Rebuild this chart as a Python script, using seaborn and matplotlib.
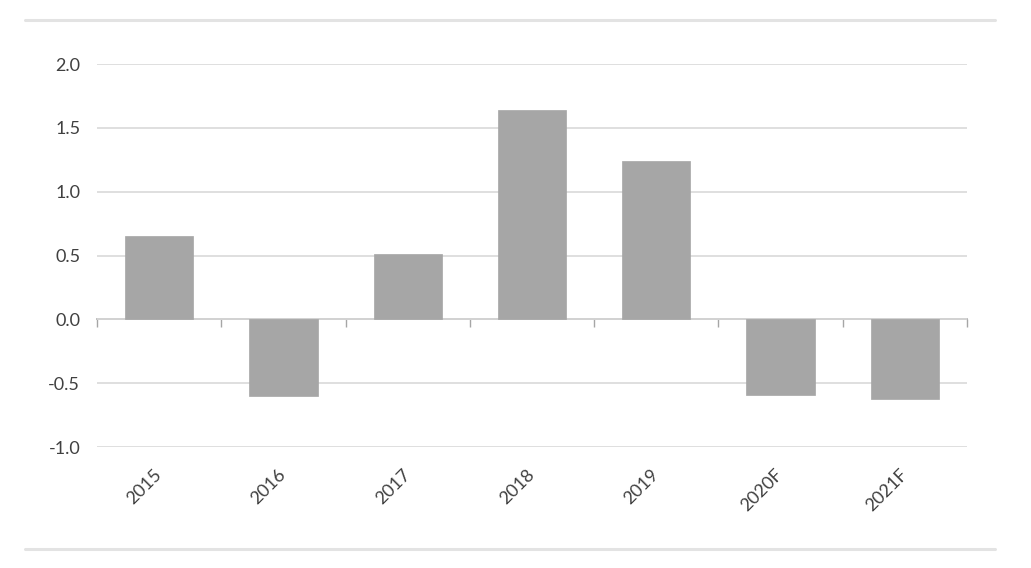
import matplotlib
matplotlib.use("Agg")
import matplotlib.pyplot as plt
from matplotlib.lines import Line2D
import seaborn as sns
import pandas as pd

categories = ["2015", "2016", "2017", "2018", "2019", "2020F", "2021F"]
values = [0.65, -0.60, 0.51, 1.64, 1.24, -0.59, -0.62]
y_ticks = [-1.0, -0.5, 0.0, 0.5, 1.0, 1.5, 2.0]

sns.set_theme(style="white")
plt.rcParams["font.family"] = ["Lato", "DejaVu Sans"]

df = pd.DataFrame({"year": categories, "value": values})

fig = plt.figure(figsize=(10.31, 5.68), dpi=100)
ax = fig.add_axes([0.094, 0.213, 0.844, 0.674])

sns.barplot(data=df, x="year", y="value", color="#a6a6a6", width=0.55,
            saturation=1, ax=ax, edgecolor="#a6a6a6", linewidth=0.5)

ax.set_ylim(-1.0, 2.0)
ax.set_xlim(-0.5, len(categories) - 0.5)
ax.set_yticks(y_ticks)
ax.set_yticklabels([f"{t:.1f}" for t in y_ticks])
ax.yaxis.grid(True, color="#d9d9d9", linewidth=1.2)
ax.set_axisbelow(True)
for s in ax.spines.values():
    s.set_visible(False)
ax.set_xlabel("")
ax.set_ylabel("")
ax.tick_params(axis="y", length=0, pad=12, labelsize=13, labelcolor="#404040")
ax.tick_params(axis="x", length=0, pad=18, labelsize=13, labelcolor="#404040")
for lab in ax.get_xticklabels():
    lab.set_rotation(45)
    lab.set_ha("right")
    lab.set_va("center")
    lab.set_rotation_mode("anchor")

# category axis at zero with boundary tick marks
sec = ax.secondary_xaxis(1 / 3)
sec.set_xticks([i - 0.5 for i in range(len(categories) + 1)])
sec.set_xticklabels([])
sec.tick_params(axis="x", direction="out", length=6, color="#a6a6a6", width=1)
sec.spines["bottom"].set_color("#a6a6a6")
sec.spines["bottom"].set_linewidth(1.2)
for k in ["top", "left", "right"]:
    sec.spines[k].set_visible(False)

# framing lines
fig.add_artist(Line2D([0.024, 0.965], [0.965, 0.965], color="#e3e3e3", linewidth=2.2,
                      transform=fig.transFigure))
fig.add_artist(Line2D([0.024, 0.965], [0.034, 0.034], color="#e3e3e3", linewidth=2.2,
                      transform=fig.transFigure))

fig.savefig("out.png", dpi=100, facecolor="white")
